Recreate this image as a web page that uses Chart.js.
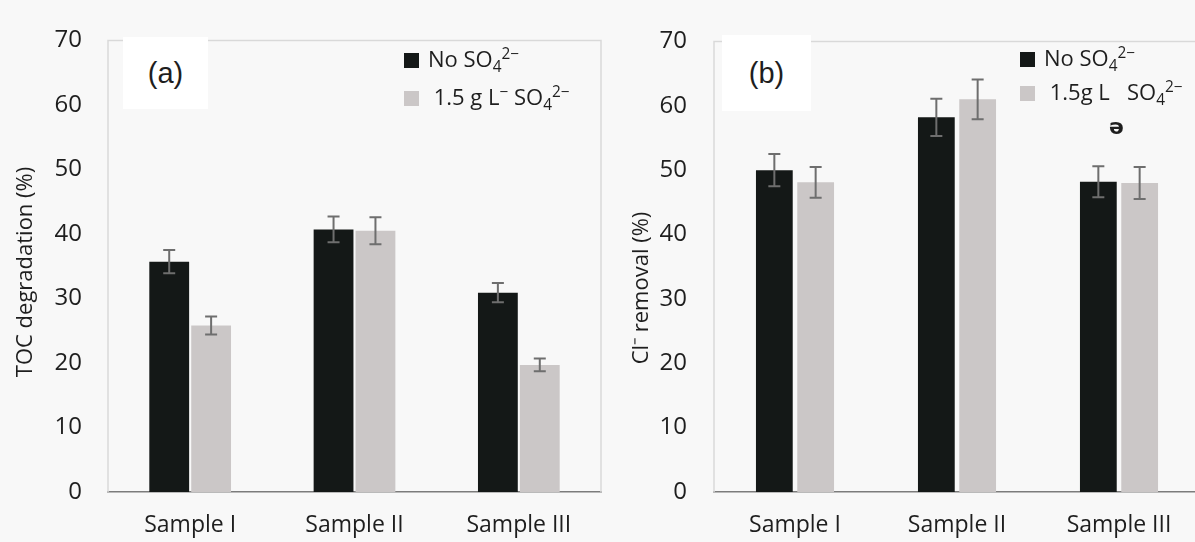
<!DOCTYPE html>
<html>
<head>
<meta charset="utf-8">
<script src="https://cdn.jsdelivr.net/npm/chart.js@4.4.0/dist/chart.umd.min.js"></script>
<style>
  body { margin: 0; width: 1195px; height: 542px; overflow: hidden; background: #f8f8f8; position: relative;
         font-family: "Open Sans", sans-serif; color: #1e1e1e; }
  .panel { position: absolute; top: 0; height: 542px; }
  #panelA { left: 0; width: 610px; }
  #panelB { left: 610px; width: 600px; }
  .tag { position: absolute; background: #fff; font-family: "Liberation Sans", Arial, sans-serif; font-size: 29px;
         display: flex; align-items: center; justify-content: center; }
  .legend { position: absolute; font-size: 22px; white-space: nowrap; }
  .legend .sw { display: inline-block; width: 15px; height: 15px; margin-right: 9px; vertical-align: -1px; }
  sub, sup { font-size: 70%; line-height: 0; }
  .extra { position: absolute; font-family: "DejaVu Sans", sans-serif; font-weight: bold; font-size: 22px; }
</style>
</head>
<body>
<div class="panel" id="panelA"><canvas id="chartA" width="610" height="542"></canvas></div>
<div class="panel" id="panelB"><canvas id="chartB" width="600" height="542"></canvas></div>
<div class="tag" style="left:123px;top:37px;width:85px;height:72px;">(a)</div>
<div class="tag" style="left:722px;top:35px;width:89px;height:76px;">(b)</div>
<div class="legend" id="legendA" style="left:404px;top:39px;"></div>
<div class="legend" id="legendB" style="left:1020px;top:40px;"></div>
<div class="extra" style="left:1109px;top:114px;">ə</div>
<script>
const samples = ['Sample I', 'Sample II', 'Sample III'];

// (a) TOC degradation, %
const tocNoSulfate = [35.7, 40.7, 30.9];
const tocNoSulfateErr = [1.8, 2.0, 1.5];
const tocSulfate = [25.8, 40.5, 19.7];
const tocSulfateErr = [1.4, 2.1, 1.0];

// (b) Cl- removal, %
const clNoSulfate = [50.0, 58.2, 48.2];
const clNoSulfateErr = [2.5, 2.9, 2.4];
const clSulfate = [48.1, 61.0, 48.0];
const clSulfateErr = [2.4, 3.1, 2.5];

const yMax = 70;
const yStep = 10;

const legendNamesA = ['No SO<sub>4</sub><sup>2\u2212</sup>', '&nbsp;1.5 g L<sup>\u2212</sup> SO<sub>4</sub><sup>2\u2212</sup>'];
const legendNamesB = ['No SO<sub>4</sub><sup>2\u2212</sup>', '&nbsp;1.5g L &nbsp; SO<sub>4</sub><sup>2\u2212</sup>'];

const darkColor = '#141817';
const lightColor = '#cbc7c7';
const textColor = '#1e1e1e';

// error bars, drawn through the chart's own scales
const errorBars = {
    id: 'errorBars',
    afterDatasetsDraw(chart) {
        const ctx = chart.ctx;
        const y = chart.scales.y;
        ctx.save();
        ctx.strokeStyle = '#6e6e6e';
        ctx.lineWidth = 2;
        chart.data.datasets.forEach((ds, i) => {
            chart.getDatasetMeta(i).data.forEach((bar, j) => {
                const top = y.getPixelForValue(ds.data[j] + ds.errors[j]);
                const bot = y.getPixelForValue(ds.data[j] - ds.errors[j]);
                ctx.beginPath();
                ctx.moveTo(bar.x, top); ctx.lineTo(bar.x, bot);
                ctx.moveTo(bar.x - 6, top); ctx.lineTo(bar.x + 6, top);
                ctx.moveTo(bar.x - 6, bot); ctx.lineTo(bar.x + 6, bot);
                ctx.stroke();
            });
        });
        ctx.restore();
    }
};

// light frame round the plot area, and the rotated y title
const frame = {
    id: 'frame',
    beforeDatasetsDraw(chart, args, opts) {
        const a = chart.chartArea;
        const ctx = chart.ctx;
        ctx.save();
        ctx.strokeStyle = '#d9d9d9';
        ctx.lineWidth = 1.5;
        ctx.beginPath();
        ctx.moveTo(a.left, a.bottom);
        ctx.lineTo(a.left, a.top);
        ctx.lineTo(a.right, a.top);
        ctx.lineTo(a.right, a.bottom);
        ctx.stroke();

        ctx.translate(opts.titleX, opts.titleY);
        ctx.rotate(-Math.PI / 2);
        ctx.fillStyle = textColor;
        ctx.font = '22px "Open Sans"';
        ctx.textAlign = 'center';
        ctx.textBaseline = 'middle';
        ctx.fillText(opts.title, 0, 0);
        ctx.restore();
    }
};

function makeChart(id, yTitle, series, geo) {
    return new Chart(document.getElementById(id), {
        type: 'bar',
        data: {
            labels: samples,
            datasets: series.map(s => ({
                label: s.label,
                data: s.data,
                errors: s.errors,
                backgroundColor: s.color,
                borderWidth: 0,
                categoryPercentage: 0.51,
                barPercentage: geo.barPct
            }))
        },
        options: {
            responsive: false,
            animation: false,
            layout: { padding: { top: geo.top, right: geo.right, bottom: 0, left: 0 } },
            plugins: {
                legend: { display: false },
                tooltip: { enabled: false },
                frame: { title: yTitle, titleX: geo.titleX, titleY: geo.titleY }
            },
            scales: {
                x: {
                    grid: { display: false, drawTicks: false },
                    border: { color: '#7c7c7c', width: 1.5 },
                    ticks: { color: textColor, padding: 20, font: { family: 'Open Sans', size: 23 } },
                    afterFit(scale) { scale.height = 50; }
                },
                y: {
                    min: 0, max: yMax,
                    grid: { display: false, drawTicks: false },
                    border: { display: false },
                    ticks: { stepSize: yStep, color: textColor, padding: geo.tickPad, font: { family: 'Open Sans', size: 24 } },
                    afterFit(scale) { scale.width = geo.yWidth; }
                }
            }
        },
        plugins: [frame, errorBars]
    });
}

makeChart('chartA', 'TOC degradation (%)', [
    { label: 'No SO4 2-', data: tocNoSulfate, errors: tocNoSulfateErr, color: darkColor },
    { label: '1.5 g L- SO4 2-', data: tocSulfate, errors: tocSulfateErr, color: lightColor }
], { top: 26, right: 9, yWidth: 108, tickPad: 26, titleX: 26, titleY: 272, barPct: 0.95 });

makeChart('chartB', 'Cl\u207B removal (%)', [
    { label: 'No SO4 2-', data: clNoSulfate, errors: clNoSulfateErr, color: darkColor },
    { label: '1.5g L SO4 2-', data: clSulfate, errors: clSulfateErr, color: lightColor }
], { top: 29, right: 10, yWidth: 104, tickPad: 27, titleX: 32, titleY: 288, barPct: 0.89 });

function buildLegend(id, names, rowH) {
    const colors = [darkColor, lightColor];
    document.getElementById(id).innerHTML = names.map((n, i) =>
        `<div style="height:${rowH}px;line-height:${rowH}px"><span class="sw" style="background:${colors[i]}"></span>${n}</div>`).join('');
}
buildLegend('legendA', legendNamesA, 38);
buildLegend('legendB', legendNamesB, 34);
</script>
</body>
</html>
